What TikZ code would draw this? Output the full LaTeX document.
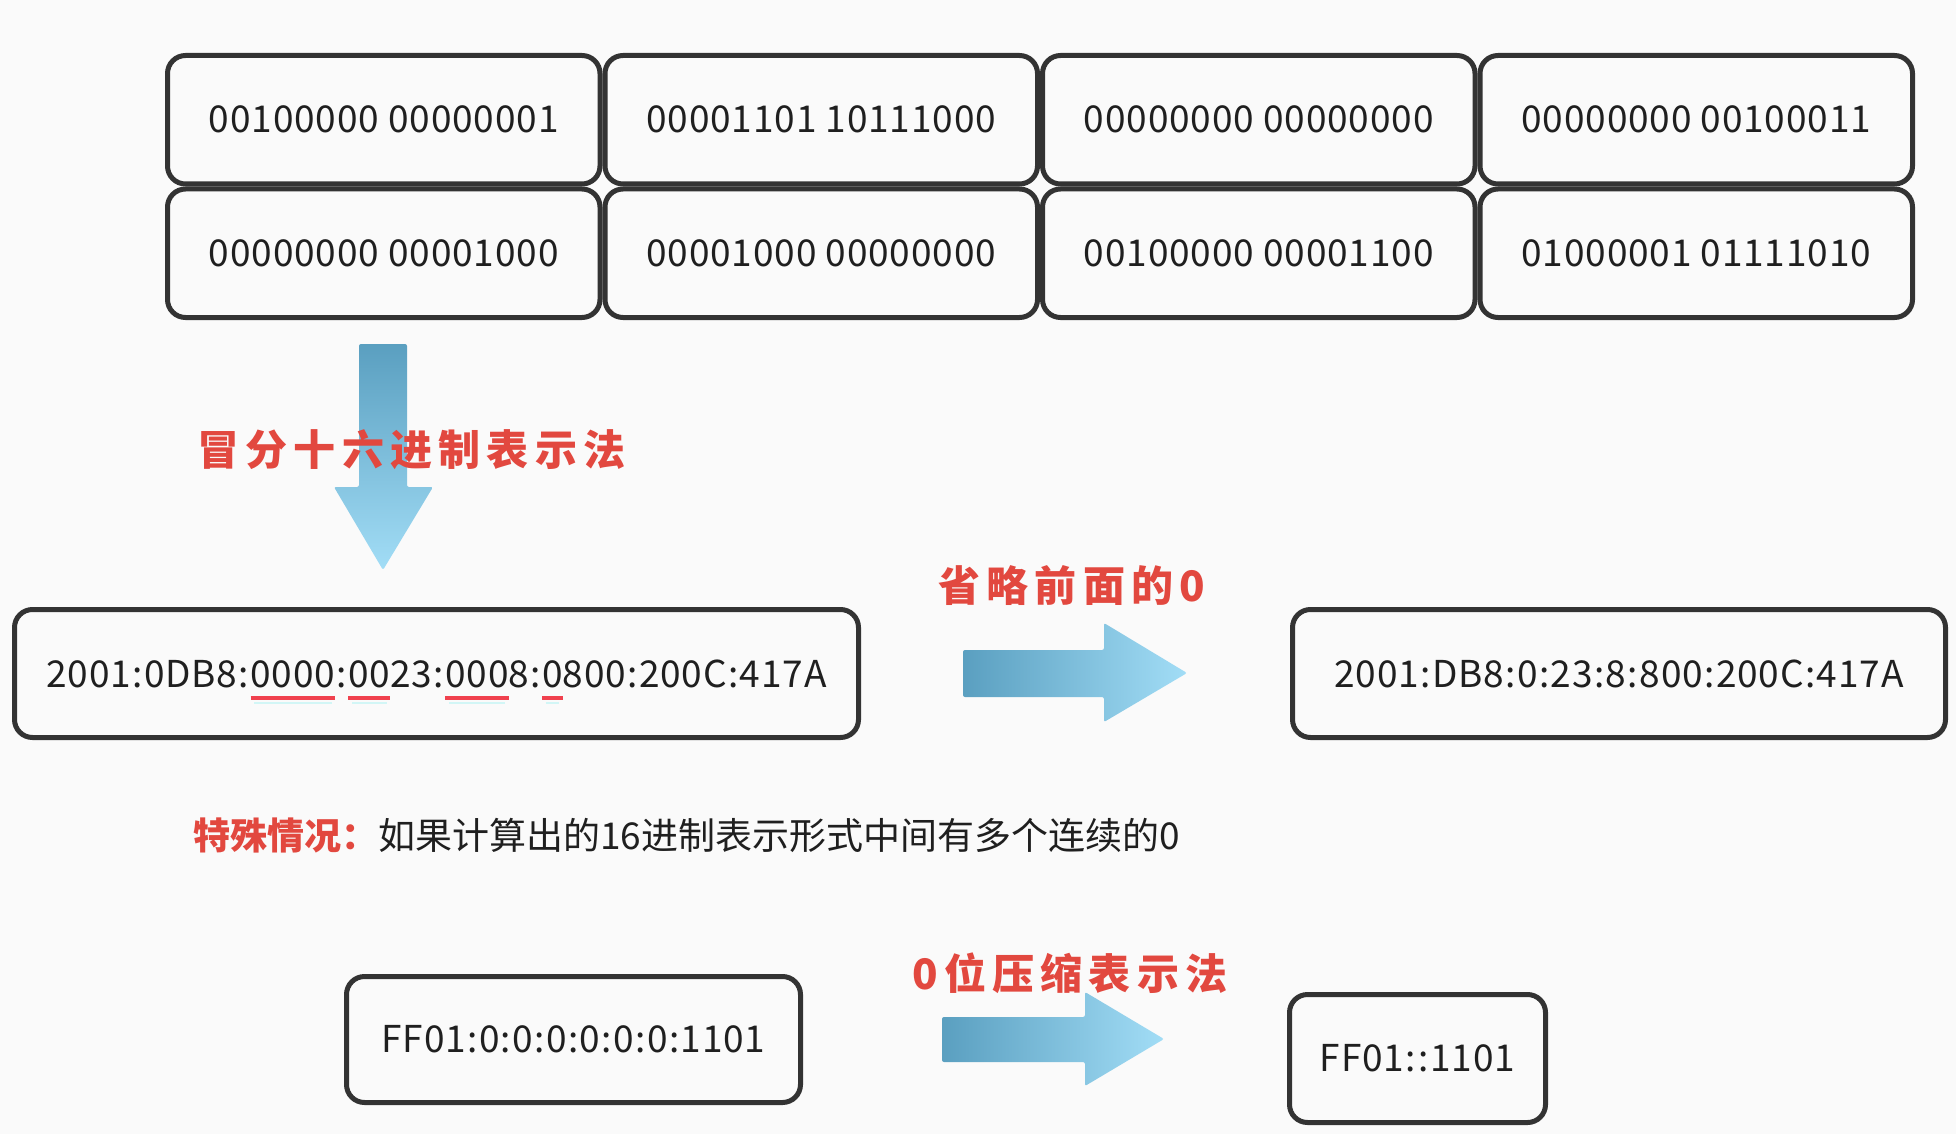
\documentclass[tikz,border=0pt]{standalone}
\usepackage{fontspec}
\setmainfont{Noto Sans CJK SC}
\newfontfamily\lblfont{Noto Sans CJK SC}[LetterSpace=15]
\newfontfamily\numfont{Noto Sans CJK SC}[LetterSpace=2.3]
\definecolor{lblred}{HTML}{E2483F}
\definecolor{ulred}{HTML}{F0414E}
\definecolor{ulcyan}{HTML}{D2F6F6}
\definecolor{boxline}{HTML}{333333}
\definecolor{bgc}{HTML}{FAFAFA}
\definecolor{adark}{HTML}{5A9FC0}
\definecolor{alight}{HTML}{A2DDF6}
\newsavebox\ulbox
\newcommand\ulr[1]{\sbox\ulbox{#1}\rlap{\smash{\color{ulcyan}\kern0.1em\rule[-0.47em]{\dimexpr\wd\ulbox-0.2em\relax}{0.07em}}}\rlap{\smash{\color{ulred}\rule[-0.36em]{\wd\ulbox}{0.13em}}}\usebox\ulbox}
\newcommand\cl{\kern1.4pt:\kern1.4pt}
\begin{document}
\begin{tikzpicture}[x=1pt,y=-1pt,
  cell/.style={draw=boxline, line width=5pt, rounded corners=18pt, inner sep=0pt,
    font=\numfont\fontsize{37}{44}\selectfont, text=black!88},
  gridcell/.style={cell, minimum width=432.5pt, minimum height=128.5pt},
  redlabel/.style={anchor=west, inner sep=0pt, text=lblred, font=\lblfont\bfseries\fontsize{42}{50}\selectfont},
  plain/.style={anchor=west, inner sep=0pt, text=black!88, font=\fontsize{37}{44}\selectfont}]
\fill[bgc] (0,0) rectangle (1956,1134);
\useasboundingbox (0,0) rectangle (1956,1134);
% top grid
\node[gridcell] (b11) at (383.75,119.75) {00100000 00000001};
\node[gridcell] (b12) at (821.25,119.75) {00001101 10111000};
\node[gridcell] (b13) at (1258.75,119.75) {00000000 00000000};
\node[gridcell] (b14) at (1696.25,119.75) {00000000 00100011};
\node[gridcell] (b21) at (383.75,253.25) {00000000 00001000};
\node[gridcell] (b22) at (821.25,253.25) {00001000 00000000};
\node[gridcell] (b23) at (1258.75,253.25) {00100000 00001100};
\node[gridcell] (b24) at (1696.25,253.25) {01000001 01111010};
% down arrow
\shade[top color=adark, bottom color=alight, rounded corners=2pt]
  (359,344) -- (407,344) -- (407,487) -- (433,487) -- (383,570) -- (334,487) -- (359,487) -- cycle;
\node[redlabel] (lbl1) at (197,450) {冒分十六进制表示法};
% middle row
\node[cell, minimum width=844pt, minimum height=128pt] (hex) at (436.5,673.5)
  {2001\cl 0DB8\cl\ulr{0000}\cl\ulr{00}23\cl\ulr{000}8\cl\ulr{0}800\cl 200C\cl 417A};
\shade[left color=adark, right color=alight, rounded corners=2pt]
  (963,650) -- (1104,650) -- (1104,623) -- (1187,673) -- (1104,722) -- (1104,697) -- (963,697) -- cycle;
\node[redlabel] (lbl2) at (938,586) {省略前面的0};
\node[cell, minimum width=653pt, minimum height=128pt] (short) at (1619,673.5)
  {2001\cl DB8\cl 0\cl 23\cl 8\cl 800\cl 200C\cl 417A};
% special note
\node[plain] (note) at (193,835) {{\color{lblred}\bfseries 特殊情况：}如果计算出的16进制表示形式中间有多个连续的0};
% bottom row
\node[cell, minimum width=454pt, minimum height=126pt] (ff) at (573.5,1039.5) {FF01\cl 0\cl 0\cl 0\cl 0\cl 0\cl 0\cl 1101};
\shade[left color=adark, right color=alight, rounded corners=2pt]
  (942,1017) -- (1085,1017) -- (1085,992) -- (1164,1039) -- (1085,1086) -- (1085,1062) -- (942,1062) -- cycle;
\node[redlabel] (lbl3) at (912,973) {0位压缩表示法};
\node[cell, minimum width=256pt, minimum height=128pt] (ffs) at (1417.5,1058.5) {FF01\cl\cl 1101};
\end{tikzpicture}
\end{document}
